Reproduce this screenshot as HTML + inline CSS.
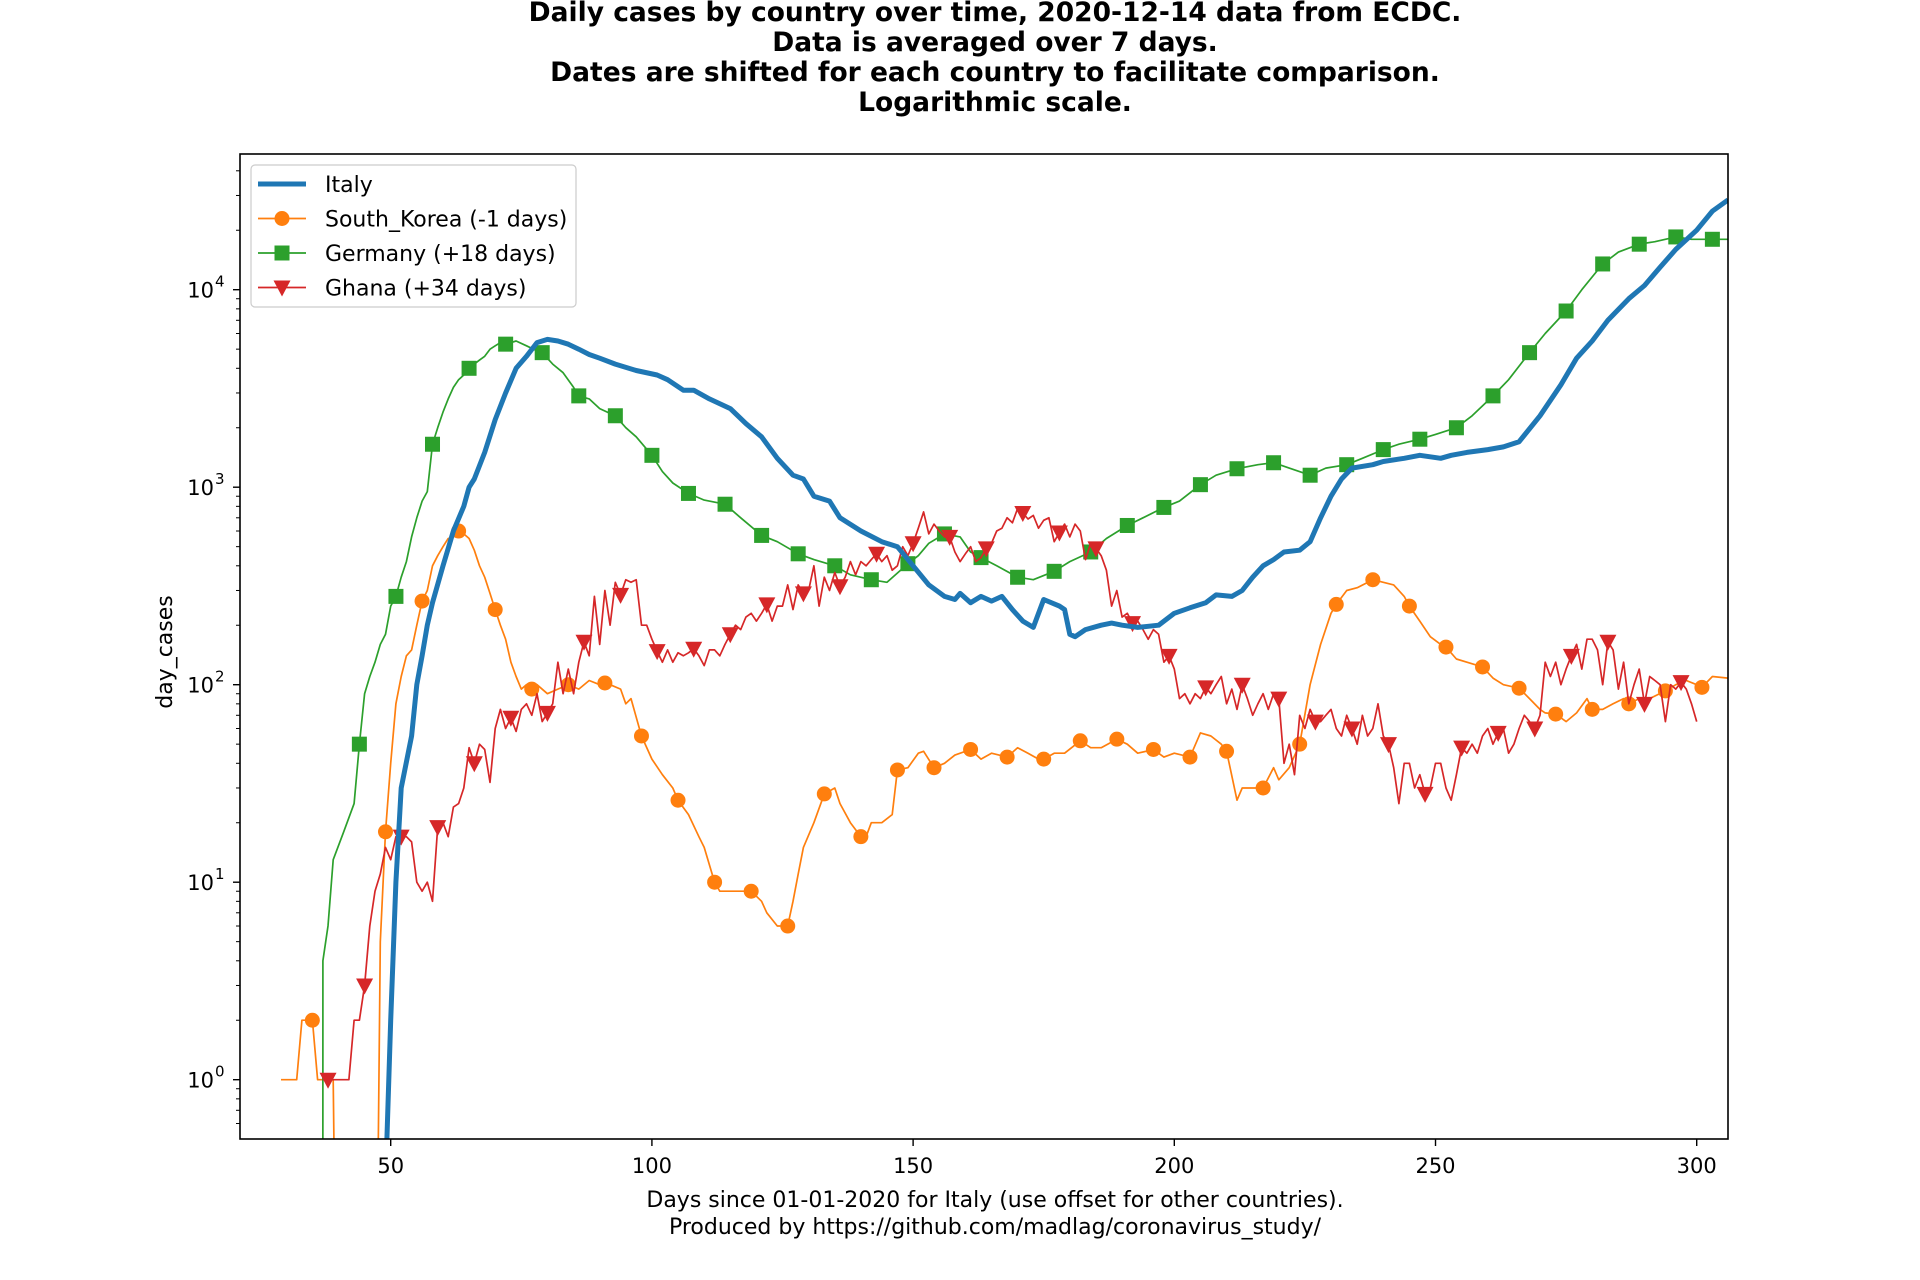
<!DOCTYPE html>
<html><head><meta charset="utf-8"><style>
html,body{margin:0;padding:0;background:#fff;overflow:hidden;width:1920px;height:1280px;}
svg{display:block;font-family:"DejaVu Sans","Liberation Sans",sans-serif;}
</style></head><body>
<svg id="chart" width="1920" height="1280" viewBox="0 0 1920 1280" xmlns="http://www.w3.org/2000/svg">
<rect width="1920" height="1280" fill="#fff"/>
<g font-weight="bold" font-size="26.5" text-anchor="middle" fill="#000">
<text x="995" y="21">Daily cases by country over time, 2020-12-14 data from ECDC.</text>
<text x="995" y="51">Data is averaged over 7 days.</text>
<text x="995" y="81">Dates are shifted for each country to facilitate comparison.</text>
<text x="995" y="111">Logarithmic scale.</text>
</g>
<defs><clipPath id="plotclip"><rect x="240" y="154" width="1488" height="985"/></clipPath></defs>
<g id="ticks"></g>
<g id="series" clip-path="url(#plotclip)"></g>
<rect x="240" y="154" width="1488" height="985" fill="none" stroke="#000" stroke-width="1.6"/>
<g font-size="22" text-anchor="middle" fill="#000">
<text x="995" y="1207">Days since 01-01-2020 for Italy (use offset for other countries).</text>
<text x="995" y="1234">Produced by https://github.com/madlag/coronavirus_study/</text>
</g>
<text font-size="22" text-anchor="middle" transform="translate(172,652) rotate(-90)">day_cases</text>
<g id="legend"></g>
</svg>
<script>
const italyDays=[49,50,51,52,54,55,56,57,58,60,
62,64,65,66,68,70,72,74,76,78,
80,82,84,86,88,90,93,97,101,103,
106,108,111,115,118,121,124,127,129,131,
134,136,140,144,147,150,153,156,158,159,
161,163,165,167,169,171,173,175,178,179,
180,181,183,186,188,190,193,197,200,203,
206,208,211,213,215,217,219,221,224,226,
228,230,232,234,238,240,244,247,251,253,
256,260,263,266,270,274,277,280,283,287,
290,293,296,300,303,306];
const italyVals=[0.3,2,10,30,55,100,140,200,260,400,
600,800,1000,1100,1500,2200,3000,4000,4600,5400,
5600,5500,5300,5000,4700,4500,4200,3900,3700,3500,
3100,3100,2800,2500,2100,1800,1400,1150,1100,900,
850,700,600,530,500,400,320,280,270,290,
260,280,265,280,240,210,195,270,250,240,
180,175,190,200,205,200,195,200,230,245,
260,285,280,300,350,400,430,470,480,530,
700,900,1100,1250,1300,1350,1400,1450,1400,1450,
1500,1550,1600,1700,2300,3300,4500,5500,7000,9000,
10500,13000,16000,20000,25000,28500];
const koreaDays=[29,30,31,32,33,34,35,36,37,38,39,39.9,47,48,49,50,51,52,53,54,55,56,57,58,59,60,61,62,63,64,65,66,67,68,69,70,71,72,73,74,75,76,77,78,80,82,84,86,88,90,91,92,94,95,96,98,100,102,104,105,107,109,110,112,113,116,118,119,121,122,124,126,127,128,129,131,133,135,136,138,140,141,142,144,146,147,149,151,152,154,156,158,161,163,165,168,170,172,174,175,177,179,182,184,186,189,191,193,196,198,200,203,205,207,209,210,212,213,215,217,219,220,222,224,226,228,230,231,233,235,238,240,242,244,245,247,249,251,252,254,256,259,261,263,266,268,270,271,273,275,277,279,280,282,284,286,287,289,291,294,296,298,300,301,303,306];
const koreaVals=[1,1,1,1,2,2,2,1,1,1,1,0.01,0.01,5,18,40,80,110,140,150,200,265,300,400,450,500,550,560,600,580,550,480,400,350,290,240,200,170,130,110,95,100,95,100,90,95,100,95,105,100,102,100,95,80,85,55,42,35,30,26,22,17,15,10,9,9,9,9,8,7,6,6,8,11,15,20,28,30,25,20,17,17,20,20,22,37,38,45,46,38,40,44,47,42,45,43,48,45,42,42,45,45,52,48,48,53,50,45,47,43,45,43,57,55,50,46,26,30,30,30,38,33,38,50,100,160,230,255,300,310,340,330,320,280,250,210,175,160,155,135,130,123,108,100,96,85,75,72,71,65,72,85,75,75,80,85,80,85,85,93,100,105,100,97,110,108];
const germanyDays=[37,37.01,38,39,41,43,44,45,46,47,48,49,50,51,52,53,54,55,56,57,58,59,60,61,62,63,64,65,66,67,68,69,70,71,72,74,76,78,79,81,83,85,86,88,90,93,95,97,100,102,104,107,110,114,117,121,124,128,131,135,138,142,145,149,151,153,156,159,161,163,166,170,173,177,180,184,187,191,194,198,201,205,208,212,216,219,222,226,229,233,236,240,243,247,250,254,257,261,264,268,271,275,278,282,285,289,292,296,299,303,306];
const germanyVals=[0.01,4,6,13,18,25,50,90,110,130,160,180,250,280,350,420,560,700,850,950,1650,2000,2400,2800,3200,3500,3700,4000,4200,4400,4600,5000,5200,5400,5300,5500,5200,4900,4800,4200,3800,3200,2900,2800,2500,2300,2000,1800,1450,1200,1050,930,860,820,700,570,530,460,430,400,360,340,330,410,450,520,580,560,470,440,400,350,340,375,420,470,550,640,700,790,850,1030,1150,1240,1300,1330,1250,1150,1250,1300,1400,1550,1650,1750,1850,2000,2300,2900,3500,4800,6000,7800,10000,13500,15500,17000,17500,18500,18000,18000,18000];
const ghanaDays=[];for(let d=37;d<=300;d++)ghanaDays.push(d);
const ghanaVals=[1,1,1,1,1,1,2,2,3,6,9,11,15,13,17,17,17,16,10,9,10,8,19,20,17,24,25,30,48,40,50,47,32,60,75,60,68,58,75,80,70,90,65,72,80,130,90,120,90,130,165,140,280,160,300,200,330,285,340,330,340,200,200,170,148,130,150,130,145,140,145,152,140,125,150,150,140,160,180,200,190,220,230,210,230,255,210,250,250,320,240,320,290,300,400,250,350,300,370,315,350,420,360,420,400,430,460,420,450,380,400,500,450,520,620,750,580,650,600,560,560,470,420,460,500,420,440,490,520,600,620,700,660,780,740,690,720,620,680,700,530,590,650,560,650,600,430,520,490,450,380,250,300,220,230,205,210,190,170,190,180,130,140,120,85,90,80,90,85,97,90,100,110,80,95,75,100,85,70,80,90,75,90,85,40,50,35,70,60,75,65,65,70,75,60,55,70,60,50,70,55,60,80,55,50,38,25,40,40,30,35,28,30,40,40,30,26,35,48,45,50,45,55,60,50,57,60,45,50,60,70,65,60,70,130,110,130,100,120,140,160,120,170,170,150,100,165,150,95,130,80,100,120,80,110,105,100,65,100,95,103,95,80,65];
const xTickVals=[50,100,150,200,250,300];
const yTickExps=[0,1,2,3,4];

const X0=240,XD0=21.15,XS=5.224,Y4=289.7,DEC=197.5;
const xs=d=>X0+(d-XD0)*XS;
const ys=v=>Y4-(Math.log10(Math.max(v,0.01))-4)*DEC;
const NS='http://www.w3.org/2000/svg';
function mk(tag,attrs,parent){const e=document.createElementNS(NS,tag);for(const k in attrs)e.setAttribute(k,attrs[k]);parent.appendChild(e);return e;}
const ticks=document.getElementById('ticks');
xTickVals.forEach(t=>{
 const x=xs(t);
 const l=mk('line',{x1:x,x2:x,y1:1139,y2:1146,stroke:'#000','stroke-width':1.4},ticks);
 
 
 const tx=mk('text',{x:x,y:1173,'font-size':21,'text-anchor':'middle'},ticks);
 
 
 tx.textContent=t;
});
for(let e=-1;e<=4;e++){for(let m=2;m<=9;m++){const y=ys(m*Math.pow(10,e));if(y<154||y>1139)continue;
 const l=mk('line',{x1:236,x2:240,y1:y,y2:y,stroke:'#000','stroke-width':1},ticks);
 
 }}
yTickExps.forEach(e=>{
 const y=ys(Math.pow(10,e));
 const l=mk('line',{x1:233,x2:240,y1:y,y2:y,stroke:'#000','stroke-width':1.4},ticks);
 
 
 const tx=mk('text',{x:214,y:y+8,'font-size':21,'text-anchor':'end'},ticks);
 
 
 tx.textContent='10';
 const sp=mk('text',{x:215,y:y-3,'font-size':15},ticks);
 
 
 sp.textContent=e;
});
const S=document.getElementById('series');
function marker(type,x,y,color,g){
 let m;
 if(type==='circle')m=mk('circle',{cx:x,cy:y,r:7.5,fill:color},g);
 else if(type==='square')m=mk('rect',{x:x-7.5,y:y-7.5,width:15,height:15,fill:color},g);
 else m=mk('path',{d:`M${x-8.5},${y-7} L${x+8.5},${y-7} L${x},${y+9} Z`,fill:color},g);
 return m;
}
function drawSeries(name,days,vals,color,lw,type,mod){
 const g=mk('g',{},S);
 
 
 const pts=days.map((d,i)=>xs(d).toFixed(1)+','+ys(vals[i]).toFixed(1)).join(' ');
 const pl=mk('polyline',{points:pts,fill:'none',stroke:color,'stroke-width':lw,'stroke-linejoin':'round'},g);
 
 
 if(type){days.forEach((d,i)=>{if(Number.isInteger(d)&&((d%7)+7)%7===mod&&vals[i]>0.4){
  const m=marker(type,xs(d),ys(vals[i]),color,g);
  
  }});}
}
drawSeries('south-korea',koreaDays,koreaVals,'#ff7f0e',1.7,'circle',0);
drawSeries('germany',germanyDays,germanyVals,'#2ca02c',1.7,'square',2);
drawSeries('ghana',ghanaDays,ghanaVals,'#d62728',1.7,'triangle',3);
drawSeries('italy',italyDays,italyVals,'#1f77b4',5,null,0);

const L=document.getElementById('legend');
const box=mk('rect',{x:251,y:165,width:325,height:142,rx:4,fill:'#fff','fill-opacity':0.8,stroke:'#ccc','stroke-width':1.2},L);


const legNames=['Italy','South_Korea (-1 days)','Germany (+18 days)','Ghana (+34 days)'];
const legColors=['#1f77b4','#ff7f0e','#2ca02c','#d62728'];
const legTypes=[null,'circle','square','triangle'];
legNames.forEach((n,i)=>{
 const y=184+i*34.5;
 const g=mk('g',{},L);
 
 
 mk('line',{x1:258,x2:306,y1:y,y2:y,stroke:legColors[i],'stroke-width':i===0?5:1.7},g);
 if(legTypes[i])marker(legTypes[i],282,y,legColors[i],g);
 const t=mk('text',{x:325,y:y+8,'font-size':22},g);
 t.textContent=n;
});
</script>
</body></html>
